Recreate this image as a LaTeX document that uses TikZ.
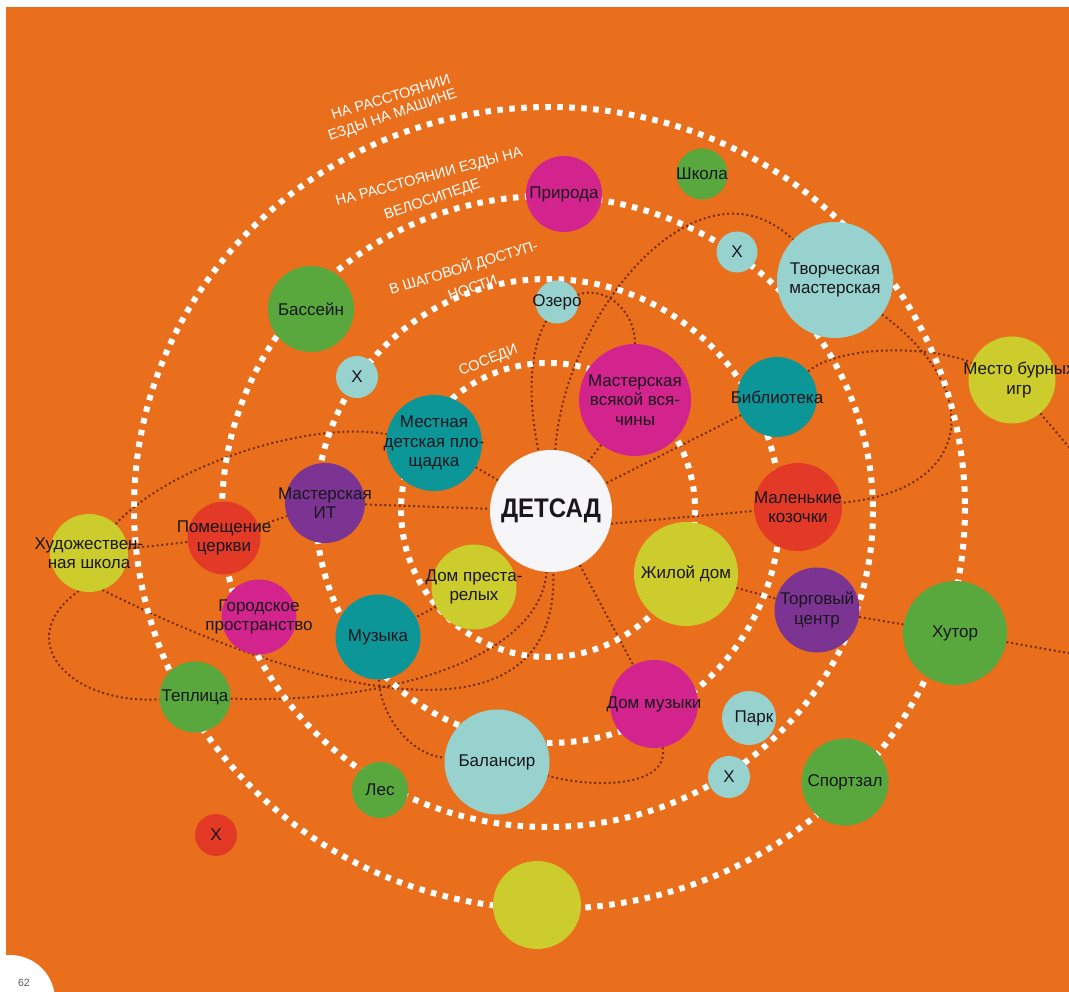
\documentclass[tikz,border=0pt]{standalone}
\usepackage{fontspec}
\setmainfont{Liberation Sans}
\pgfdeclarelayer{bgl}
\pgfdeclarelayer{midl}
\pgfsetlayers{bgl,midl,main}
\definecolor{bgor}{RGB}{233,111,29}
\definecolor{cmag}{RGB}{210,36,140}
\definecolor{cteal}{RGB}{13,150,152}
\definecolor{cyel}{RGB}{204,204,44}
\definecolor{ccyan}{RGB}{152,210,206}
\definecolor{cgrn}{RGB}{88,168,62}
\definecolor{cred}{RGB}{226,58,38}
\definecolor{cpur}{RGB}{124,52,146}
\definecolor{cwht}{RGB}{246,246,248}
\definecolor{cbrn}{RGB}{120,45,12}
\definecolor{ctxt}{RGB}{25,22,30}
\tikzset{
  bub/.style={circle, inner sep=0pt, draw=none},
  lbl/.style={inner sep=0pt, align=center, text=ctxt, font=\fontsize{17}{19.5}\selectfont},
  rlab/.style={inner sep=0pt, text=white, font=\fontsize{14.5}{16}\selectfont, anchor=base west},
  ring/.style={draw=white, line width=6pt, dash pattern=on 5.5pt off 6.5pt},
  conn/.style={draw=cbrn, line width=2pt, dash pattern=on 2pt off 2.8pt}
}
\newcommand{\Bub}[5]{\node[bub, fill=#2, minimum size=#3pt] (#1) at (#4) {};
  \node[lbl] (#1t) at (#1.center) {#5};}
\begin{document}
\begin{tikzpicture}[x=1pt,y=-1pt]
\useasboundingbox (0,0) rectangle (1069,992);
\clip (0,0) rectangle (1069,992);
\begin{pgfonlayer}{bgl}
  \fill[white] (-2,-2) rectangle (1071,994);
  \fill[bgor] (6,7) rectangle (1071,994);
\end{pgfonlayer}

% bubbles
\node[bub, fill=cwht, minimum size=122pt] (det) at (551,511) {};
\node[lbl, font=\bfseries\fontsize{24}{26}\selectfont] (dett) at (det.center) {\scalebox{1}[1.12]{ДЕТСАД}};
\Bub{mvv}{cmag}{112}{635,400}{Мастерская\\всякой вся-\\чины}
\Bub{mdp}{cteal}{96}{434,443}{Местная\\детская пло-\\щадка}
\Bub{dpr}{cyel}{85}{474,587}{Дом преста-\\релых}
\Bub{zhd}{cyel}{104}{686,574}{Жилой дом}
\Bub{dmz}{cmag}{88}{654,704}{Дом музыки}
\Bub{bal}{ccyan}{105}{497,762}{Балансир}
\Bub{muz}{cteal}{85}{378,637}{Музыка}
\Bub{gor}{cmag}{75}{259,617}{Городское\\пространство}
\Bub{pom}{cred}{73}{224,538}{Помещение\\церкви}
\Bub{mit}{cpur}{80}{325,503}{Мастерская\\ИТ}
\Bub{hud}{cyel}{78}{89,553}{Художествен-\\ная школа}
\Bub{tep}{cgrn}{71}{195,697}{Теплица}
\Bub{les}{cgrn}{56}{380,790}{Лес}
\Bub{bas}{cgrn}{86}{311,309}{Бассейн}
\Bub{xa}{ccyan}{42}{357,377}{Х}
\Bub{pri}{cmag}{76}{564,194}{Природа}
\Bub{shk}{cgrn}{51}{702,174}{Школа}
\Bub{xb}{ccyan}{41}{737,252}{Х}
\Bub{tvm}{ccyan}{116}{835,280}{Творческая\\мастерская}
\Bub{oze}{ccyan}{43}{557,302}{Озеро}
\Bub{bib}{cteal}{80}{777,397}{Библиотека}
\node[bub, fill=cyel, minimum size=87pt] (mbi) at (1012,380) {};
\node[lbl] (mbit) at (1019,380) {Место бурных\\игр};
\Bub{koz}{cred}{88}{798,507}{Маленькие\\козочки}
\Bub{trg}{cpur}{85}{817,610}{Торговый\\центр}
\Bub{hut}{cgrn}{104}{955,633}{Хутор}
\node[bub, fill=ccyan, minimum size=54pt] (par) at (749,718) {};
\node[lbl] (part) at (754,718) {Парк};
\Bub{xc}{ccyan}{42}{729,777}{Х}
\Bub{spo}{cgrn}{87}{845,782}{Спортзал}
\node[bub, fill=cyel, minimum size=88pt] (yel) at (537,905) {};
\Bub{xd}{cred}{42}{216,835}{Х}

% off-page ends
\coordinate (offa) at (1085,656);
\coordinate (offb) at (1085,466);

% ring labels
\node[rlab, rotate=17] (l4a) at (333,120) {НА РАССТОЯНИИ};
\node[rlab, rotate=19] (l4b) at (330,141) {ЕЗДЫ НА МАШИНЕ};
\node[rlab, rotate=15] (l3a) at (337,206) {НА РАССТОЯНИИ ЕЗДЫ НА};
\node[rlab, rotate=19] (l3b) at (386,220) {ВЕЛОСИПЕДЕ};
\node[rlab, rotate=17] (l2a) at (391,295) {В ШАГОВОЙ ДОСТУП-};
\node[rlab, rotate=20] (l2b) at (450,301) {НОСТИ};
\node[rlab, rotate=22] (l1) at (461,376) {СОСЕДИ};

% page number
\node[circle, fill=white, minimum size=90pt, inner sep=0pt] (pgc) at (10,1000) {};
\node[text=black!65, font=\fontsize{10.5}{12}\selectfont] (pgn) at (24,983) {62};

\begin{pgfonlayer}{midl}
  % connectors
  \draw[conn] (oze) .. controls (524,360) and (532,420) .. (det);
  \draw[conn] (oze) .. controls (605,285) and (635,310) .. (mvv);
  \draw[conn] (det) .. controls (565,310) and (700,150) .. (tvm);
  \draw[conn] (mvv) -- (det);
  \draw[conn] (bib) -- (det);
  \draw[conn] (mdp) -- (det);
  \draw[conn] (mit) -- (det);
  \draw[conn] (pom) -- (mit);
  \draw[conn] (hud) -- (pom);
  \draw[conn] (hud) .. controls (170,465) and (310,420) .. (mdp);
  \draw[conn] (hud.-105) .. controls (10,640) and (70,705) .. (tep);
  \draw[conn] (hud.-70) .. controls (300,690) and (560,760) .. (det);
  \draw[conn] (tep) .. controls (380,705) and (540,660) .. (det);
  \draw[conn] (muz) .. controls (380,715) and (410,755) .. (bal);
  \draw[conn] (dpr) -- (muz);
  \draw[conn] (det) -- (dmz);
  \draw[conn] (dmz) .. controls (670,785) and (600,790) .. (bal);
  \draw[conn] (det.-12) -- (koz);
  \draw[conn] (zhd) -- (trg);
  \draw[conn] (trg) -- (hut);
  \draw[conn] (hut) -- (offa);
  \draw[conn] (bib) .. controls (840,345) and (930,345) .. (mbi);
  \draw[conn] (mbi) -- (offb);
  \draw[conn] (tvm) .. controls (985,390) and (975,490) .. (koz);
  % rings
  \draw[ring] (548,510) circle[radius=147];
  \draw[ring] (548,511) circle[radius=232];
  \draw[ring] (547.5,511.5) ellipse[x radius=325.5, y radius=315.5];
  \draw[ring] (549.5,508) ellipse[x radius=415.5, y radius=401];
\end{pgfonlayer}
\end{tikzpicture}
\end{document}
